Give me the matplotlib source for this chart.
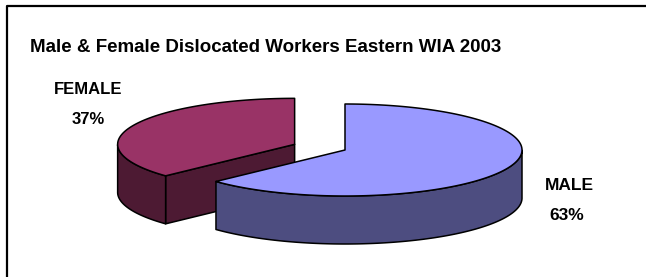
import numpy as np
import matplotlib
matplotlib.use("Agg")
import matplotlib.pyplot as plt
from matplotlib.patches import Polygon

title = "Male & Female Dislocated Workers Eastern WIA 2003"
categories = ["MALE", "FEMALE"]
values = [63, 37]
top_colors = ["#9999FF", "#993366"]
side_colors = ["#4D4D80", "#4D1A33"]
explode = [0.0, 0.31]

W, H = 646, 277
fig = plt.figure(figsize=(W / 100, H / 100), dpi=100)
ax = fig.add_axes([0, 0, 1, 1])
ax.set_xlim(0, W)
ax.set_ylim(H, 0)
ax.axis("off")

# frame (left and top edges visible)
ax.plot([7, 7, W + 5], [H + 5, 6, 6], color="black", lw=1.6, solid_capstyle="butt")

cx0, cy0 = 345, 150
rx, ry, depth = 177, 46, 48
lw = 1.1

def pt(cx, cy, a, z=0):
    return (cx + rx * np.cos(a), cy - ry * np.sin(a) + z)

total = float(sum(values))
start = np.pi / 2
slices = []
for v, tc, sc, ex in zip(values, top_colors, side_colors, explode):
    sweep = 2 * np.pi * v / total
    a0, a1 = start - sweep, start  # clockwise from 12 o'clock
    mid = (a0 + a1) / 2
    cx = cx0 + ex * rx * np.cos(mid)
    cy = cy0 - ex * ry * np.sin(mid)
    slices.append((a0, a1, cx, cy, tc, sc))
    start = a0

# draw back slice (female) first, then male in front
for a0, a1, cx, cy, tc, sc in [slices[1], slices[0]]:
    kw = dict(edgecolor="black", lw=lw, joinstyle="round")
    # radial faces
    for a, sign in ((a0, -1), (a1, 1)):
        normal = a + sign * np.pi / 2
        if np.sin(normal) < -1e-6:
            p = pt(cx, cy, a)
            poly = [(cx, cy), p, (p[0], p[1] + depth), (cx, cy + depth)]
            ax.add_patch(Polygon(poly, closed=True, facecolor=sc, **kw))
    # outer side (front half only)
    ts = np.linspace(a0, a1, 300)
    ts = ts[np.sin(ts) <= 0.0]
    if len(ts) > 1:
        topp = [pt(cx, cy, t) for t in ts]
        botp = [pt(cx, cy, t, depth) for t in ts[::-1]]
        ax.add_patch(Polygon(topp + botp, closed=True, facecolor=sc, **kw))
    # top face
    ts = np.linspace(a0, a1, 300)
    poly = [(cx, cy)] + [pt(cx, cy, t) for t in ts]
    ax.add_patch(Polygon(poly, closed=True, facecolor=tc, **kw))

fp = dict(family="Liberation Sans", weight="bold", color="black")
ax.text(266, 47, title, ha="center", va="center", fontsize=13.5, **fp)
ax.text(569, 186, categories[0], ha="center", va="center", fontsize=12.5, **fp)
ax.text(567, 215, f"{values[0]}%", ha="center", va="center", fontsize=12.5, **fp)
ax.text(88, 89, categories[1], ha="center", va="center", fontsize=12, **fp)
ax.text(88, 119, f"{values[1]}%", ha="center", va="center", fontsize=12, **fp)

fig.savefig("out.png", dpi=100)
